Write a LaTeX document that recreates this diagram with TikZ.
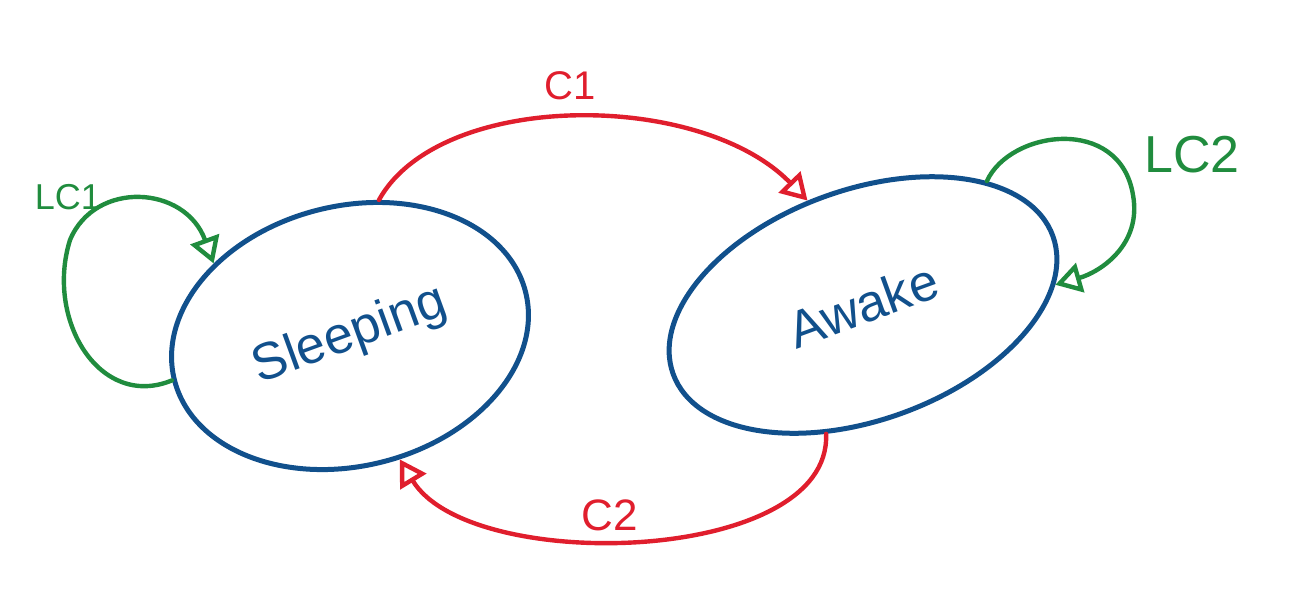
\documentclass[tikz,border=0pt]{standalone}
\usepackage{fontspec}
\setmainfont{Liberation Sans}
\usetikzlibrary{shapes.geometric,arrows.meta}
\definecolor{stateblue}{RGB}{17,80,140}
\definecolor{edgered}{RGB}{224,30,45}
\definecolor{loopgreen}{RGB}{32,140,62}
\begin{document}
\begin{tikzpicture}[x=0.5pt,y=-0.5pt,
  state/.style={ellipse, draw=stateblue, line width=2.5pt, text=stateblue,
    inner sep=0pt, font=\fontsize{26}{30}\selectfont},
  opentip/.style={-{Triangle[open,length=13pt,width=15pt]}},
  trans/.style={draw=edgered, line width=2.2pt, line cap=round, opentip},
  selfloop/.style={draw=loopgreen, line width=2.2pt, line cap=round, opentip},
  redlbl/.style={text=edgered, inner sep=0pt},
  greenlbl/.style={text=loopgreen, inner sep=0pt}]
\useasboundingbox (0,0) rectangle (1310,606);
% states
\node[state, rotate=14, minimum width=181pt, minimum height=130pt] (s) at (350,336) {\rotatebox{6}{Sleeping}};
\node[state, rotate=20, minimum width=202pt, minimum height=115pt] (a) at (863,305) {Awake};
% transitions
\draw[trans] (s.64) .. controls (440,90) and (700,90) .. (a.98);
\draw[trans] (a.234) .. controls (832,565) and (470,575) .. (s.278);
% self loops
\draw[selfloop] (s.180) .. controls (100,410) and (45,320) .. (70,240)
  .. controls (95,180) and (185,185) .. (s.138);
\draw[selfloop] (a.25) .. controls (1010,130) and (1120,115) .. (1133,195)
  .. controls (1142,245) and (1100,272) .. (a.346);
% labels
\node[redlbl, font=\fontsize{20}{24}\selectfont] (c1) at (570,86) {C1};
\node[redlbl, font=\fontsize{22}{26}\selectfont] (c2) at (610,515) {C2};
\node[greenlbl, font=\fontsize{18}{22}\selectfont] (lc1) at (68,197) {LC1};
\node[greenlbl, font=\fontsize{26}{30}\selectfont] (lc2) at (1192,155) {LC2};
\end{tikzpicture}
\end{document}
